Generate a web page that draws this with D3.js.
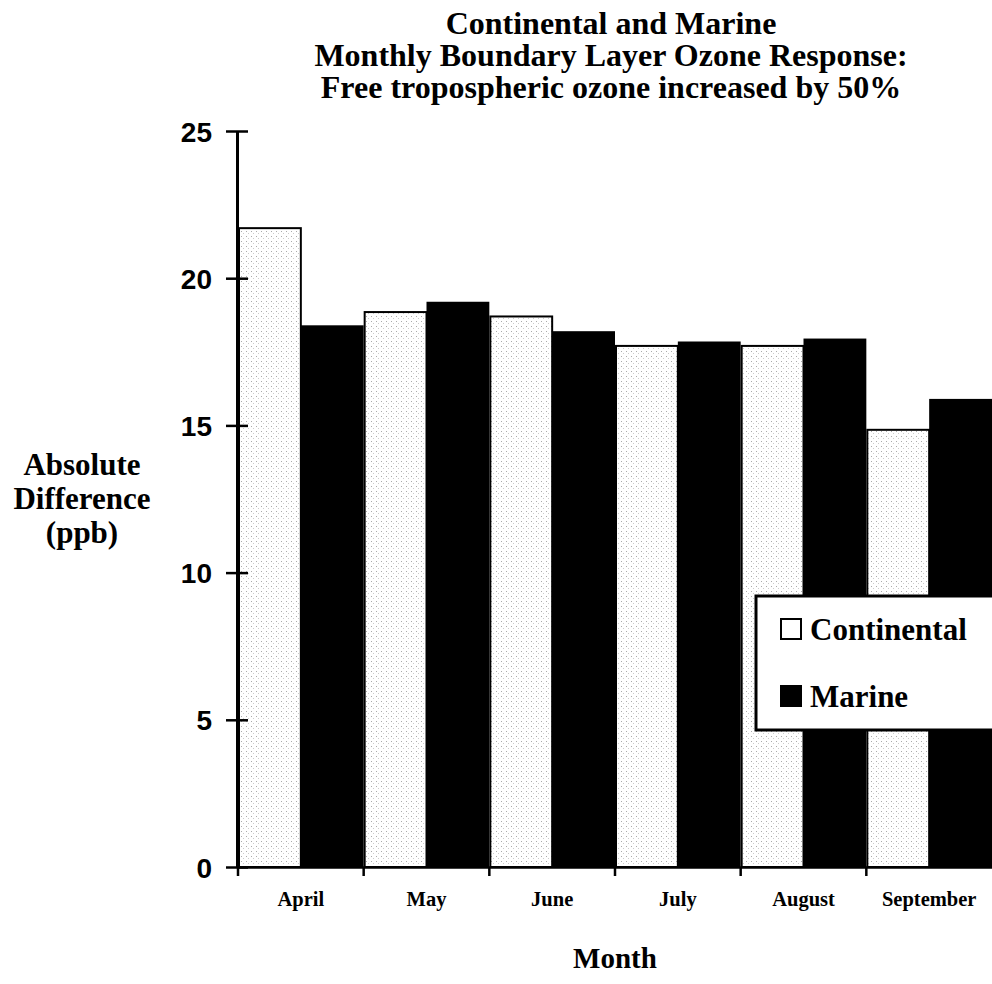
<!DOCTYPE html>
<html>
<head>
<meta charset="utf-8">
<script src="https://cdnjs.cloudflare.com/ajax/libs/d3/7.8.5/d3.min.js"></script>
<style>
    body { margin: 0; background: #fff; }
    #space { width: 992px; height: 984px; overflow: hidden; }
</style>
</head>
<body>
<div id="space"></div>
<script>
var months = ["April", "May", "June", "July", "August", "September"];
var continental = [21.7, 18.85, 18.7, 17.7, 17.7, 14.85];
var marine = [18.4, 19.2, 18.2, 17.85, 17.95, 15.9];
var series_names = ["Continental", "Marine"];
var y_ticks = [0, 5, 10, 15, 20, 25];
var title_lines = ["Continental and Marine", "Monthly Boundary Layer Ozone Response:", "Free tropospheric ozone increased by 50%"];
var y_title_lines = ["Absolute", "Difference", "(ppb)"];
var x_title = "Month";

var svg, x, x_inner, y;
var serif = "'Liberation Serif', 'Times New Roman', serif";
var sans = "'Liberation Sans', Arial, sans-serif";

init();

function init() {
    initSvg();

    x = d3.scaleBand()
            .domain(months)
            .range([238, 992])
            .padding(0);

    x_inner = d3.scaleBand()
            .domain(series_names)
            .range([0, x.bandwidth()])
            .padding(0);

    y = d3.scaleLinear()
            .domain([0, 25])
            .range([867, 131]);

    drawBars();
    drawAxis();
    drawTitles();
    drawLegend();
}

function initSvg() {
    svg = d3.select("#space").append("svg")
                .attr("xmlns", "http://www.w3.org/2000/svg")
                .attr("width", 992)
                .attr("height", 984);

    //Stipple texture of the continental bars
    var pat = svg.append("defs").append("pattern")
                .attr("id", "stipple")
                .attr("patternUnits", "userSpaceOnUse")
                .attr("width", 5)
                .attr("height", 5);
    pat.append("rect").attr("width", 5).attr("height", 5).attr("fill", "#fff");
    pat.append("rect").attr("x", 1).attr("y", 1).attr("width", 1).attr("height", 1).attr("fill", "#aaa");
    pat.append("rect").attr("x", 3).attr("y", 3).attr("width", 1).attr("height", 1).attr("fill", "#ccc");

    //Reorder elements
    svg.append("g").attr("id", "rect");
    svg.append("g").attr("id", "path");
    svg.append("g").attr("id", "text");
}

function drawBars() {
    var g = svg.select("#rect");

    //Continental
    g.selectAll(".bar-cont")
        .data(continental)
        .enter().append("rect")
        .attr("class", "bar-cont")
        .attr("x", function (d, i) { return x(months[i]) + x_inner("Continental") + 1; })
        .attr("y", function (d) { return y(d); })
        .attr("width", x_inner.bandwidth() - 1)
        .attr("height", function (d) { return y(0) - y(d); })
        .attr("fill", "url(#stipple)")
        .attr("stroke", "#000")
        .attr("stroke-width", 2);

    //Marine
    g.selectAll(".bar-marine")
        .data(marine)
        .enter().append("rect")
        .attr("class", "bar-marine")
        .attr("x", function (d, i) { return x(months[i]) + x_inner("Marine"); })
        .attr("y", function (d) { return y(d); })
        .attr("width", x_inner.bandwidth())
        .attr("height", function (d) { return y(0) - y(d); })
        .attr("fill", "#000");
}

function drawAxis() {
    var g = svg.select("#path");

    //Y axis
    var y_axis = d3.axisLeft(y)
                    .tickValues(y_ticks)
                    .tickSizeInner(11)
                    .tickSizeOuter(0)
                    .tickPadding(14);

    var gy = g.append("g")
                .attr("transform", "translate(237,0)")
                .call(y_axis);
    gy.select(".domain").attr("stroke-width", 3);
    gy.selectAll(".tick line")
        .attr("x1", -11)
        .attr("x2", 11)
        .attr("stroke-width", 2.5);
    gy.selectAll(".tick text")
        .attr("font-family", sans)
        .attr("font-weight", "bold")
        .attr("font-size", 28)
        .attr("fill", "#000")
        .attr("dy", "0.36em");

    //X axis
    var x_axis = d3.axisBottom(x)
                    .tickSize(0)
                    .tickPadding(24);

    var gx = g.append("g")
                .attr("transform", "translate(0,867)")
                .call(x_axis);
    gx.select(".domain").attr("stroke-width", 2.5);
    gx.selectAll(".tick text")
        .attr("font-family", serif)
        .attr("font-weight", "bold")
        .attr("font-size", 20.5)
        .attr("fill", "#000");

    //Ticks sit on the month boundaries
    gx.selectAll(".bound")
        .data(months)
        .enter().append("line")
        .attr("class", "bound")
        .attr("x1", function (d) { return x(d); })
        .attr("x2", function (d) { return x(d); })
        .attr("y1", 0)
        .attr("y2", 9)
        .attr("stroke", "#000")
        .attr("stroke-width", 2.5);
}

function drawTitles() {
    var g = svg.select("#text");

    g.selectAll(".title")
        .data(title_lines)
        .enter().append("text")
        .attr("class", "title")
        .attr("x", 611)
        .attr("y", function (d, i) { return 34 + i * 32; })
        .attr("text-anchor", "middle")
        .attr("font-family", serif)
        .attr("font-weight", "bold")
        .attr("font-size", 32)
        .attr("fill", "#000")
        .text(function (d) { return d; });

    g.selectAll(".ytitle")
        .data(y_title_lines)
        .enter().append("text")
        .attr("class", "ytitle")
        .attr("x", 82)
        .attr("y", function (d, i) { return 475 + i * 34; })
        .attr("text-anchor", "middle")
        .attr("font-family", serif)
        .attr("font-weight", "bold")
        .attr("font-size", 31)
        .attr("fill", "#000")
        .text(function (d) { return d; });

    g.append("text")
        .attr("x", 615)
        .attr("y", 968)
        .attr("text-anchor", "middle")
        .attr("font-family", serif)
        .attr("font-weight", "bold")
        .attr("font-size", 29)
        .attr("fill", "#000")
        .text(x_title);
}

function drawLegend() {
    var g = svg.select("#text").append("g").attr("id", "legend");

    g.append("rect")
        .attr("x", 756)
        .attr("y", 596)
        .attr("width", 245)
        .attr("height", 134)
        .attr("fill", "#fff")
        .attr("stroke", "#000")
        .attr("stroke-width", 3);

    var items = g.selectAll(".item")
                .data(series_names)
                .enter().append("g")
                .attr("class", "item")
                .attr("transform", function (d, i) { return "translate(780," + (618 + i * 67) + ")"; });

    items.append("rect")
        .attr("x", 1)
        .attr("y", 1)
        .attr("width", 20)
        .attr("height", 20)
        .attr("fill", function (d) { return d == "Marine" ? "#000" : "#fff"; })
        .attr("stroke", "#000")
        .attr("stroke-width", 2);

    items.append("text")
        .attr("x", 30)
        .attr("y", 22)
        .attr("font-family", serif)
        .attr("font-weight", "bold")
        .attr("font-size", 31)
        .attr("fill", "#000")
        .text(function (d) { return d; });
}
</script>
</body>
</html>
